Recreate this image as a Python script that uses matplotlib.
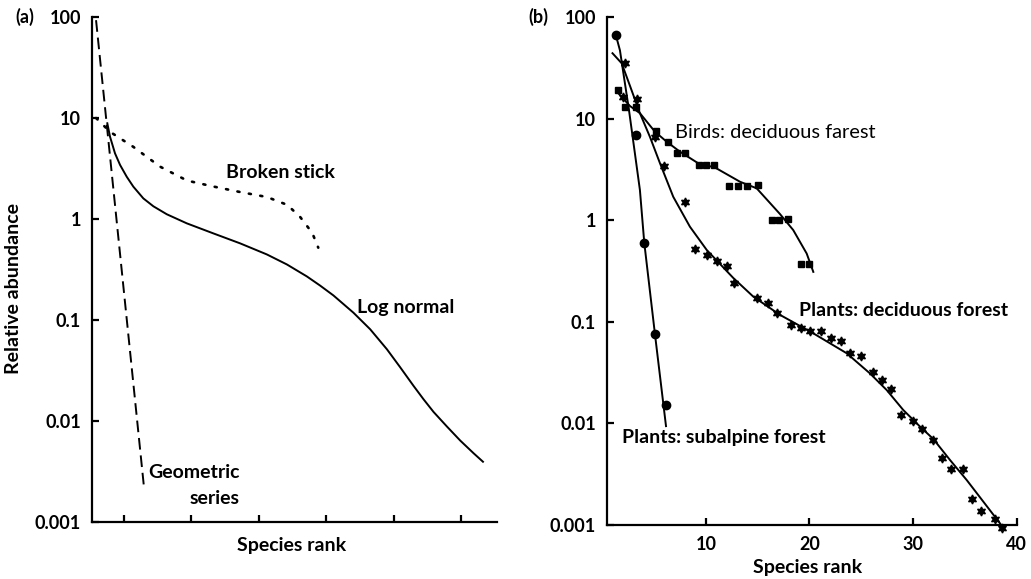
import matplotlib
matplotlib.use("Agg")
import matplotlib.pyplot as plt

plt.rcParams['font.family'] = ['Lato', 'DejaVu Sans']
plt.rcParams['font.weight'] = 'bold'

# ---------------- data: panel (a) (rank units are arbitrary, axis unlabelled) ----------
geom_rank = [0.585, 1.297]
geom_abund = [93, 0.00217]

broken_rank = [0.585, 0.792, 1.134, 1.534, 1.935, 2.32, 2.72, 3.12, 3.42, 3.61, 3.79, 3.88]
broken_abund = [10, 7.3, 5.2, 3.3, 2.4, 2.1, 1.85, 1.65, 1.38, 1.05, 0.73, 0.52]

lognorm_rank = [0.752, 0.792, 0.866, 0.941, 1.040, 1.138, 1.286, 1.435, 1.634, 1.930,
                2.325, 2.721, 3.117, 3.414, 3.711, 3.908, 4.105, 4.402, 4.650, 4.898,
                5.095, 5.292, 5.441, 5.589, 5.788, 5.985, 6.182, 6.322]
lognorm_abund = [8.87, 6.53, 4.47, 3.43, 2.62, 2.09, 1.60, 1.336, 1.114, 0.906,
                 0.720, 0.574, 0.446, 0.355, 0.270, 0.219, 0.175, 0.118, 0.0809, 0.0513,
                 0.0340, 0.0223, 0.0164, 0.0123, 0.00881, 0.0064, 0.0048, 0.00395]

a_xticks = [1, 2, 3, 4, 5, 6]
y_ticks = [0.001, 0.01, 0.1, 1, 10, 100]
y_ticklabels = ['0.001', '0.01', '0.1', '1', '10', '100']

# ---------------- data: panel (b) ----------------
sub_rank = [1.3, 3.2, 4.0, 5.07, 6.1]
sub_abund = [66, 6.9, 0.6, 0.076, 0.0152]
sub_fit_rank = [1.3, 1.69, 2.56, 3.62, 4.04, 5.07, 6.14]
sub_fit_abund = [66, 47, 12.2, 1.98, 0.6, 0.076, 0.0094]

birds_rank = [1.5, 2.2, 3.2, 5.2, 6.3, 7.2, 8.0, 9.3, 10.0, 10.8, 12.2, 13.1, 14.0, 15.0,
              16.4, 17.1, 17.95, 19.15, 20.0]
birds_abund = [19, 13, 13, 7.5, 5.9, 4.6, 4.6, 3.5, 3.5, 3.5, 2.17, 2.17, 2.17, 2.2,
               1.0, 1.0, 1.03, 0.37, 0.37]
birds_fit_rank = [1.5, 2.66, 3.62, 5.07, 6.2, 7.49, 9.26, 10.87, 13.29, 14.9, 17.15,
                  18.43, 19.73, 20.37]
birds_fit_abund = [17.9, 13.3, 11.3, 7.43, 5.93, 4.72, 3.63, 3.3, 2.39, 2.06, 1.15,
                   0.80, 0.47, 0.31]

plants_rank = [2.2, 2.0, 3.3, 5.07, 5.9, 8.0, 8.9, 10.07, 11.1, 12.06, 12.7, 14.96, 15.96,
               16.9, 18.2, 19.15, 20.05, 21.1, 22.05, 23.0, 23.9, 24.97, 26.1, 26.97,
               27.9, 28.84, 29.97, 30.9, 31.9, 32.8, 33.7, 34.8, 35.7, 36.6, 37.9, 38.6]
plants_abund = [35, 16.4, 15.5, 6.6, 3.4, 1.52, 0.52, 0.454, 0.40, 0.354, 0.239, 0.173,
                0.154, 0.123, 0.094, 0.086, 0.081, 0.081, 0.069, 0.064, 0.049, 0.046,
                0.032, 0.027, 0.0218, 0.0121, 0.0106, 0.0088, 0.0068, 0.0046, 0.00354,
                0.00354, 0.00179, 0.00137, 0.00114, 0.00093]
plants_fit_rank = [0.97, 1.86, 2.66, 3.62, 4.59, 5.56, 6.84, 8.45, 10.07, 12.64, 14.57,
                   17.15, 20.37, 23.6, 25.85, 27.46, 29.06, 30.68, 31.96, 33.57, 35.19,
                   36.79, 38.4, 38.72]
plants_fit_abund = [44, 35, 21, 11.3, 6.6, 3.63, 1.70, 0.863, 0.51, 0.27, 0.177, 0.117,
                    0.077, 0.049, 0.031, 0.0213, 0.01355, 0.0093, 0.00703, 0.00437,
                    0.00277, 0.0017, 0.00104, 0.00093]

b_xticks = [10, 20, 30, 40]

W, H = 1031, 579
fig = plt.figure(figsize=(W / 100, H / 100), dpi=100)
FS = 14
TFS = 13


def fx(x):
    return x / W


def fy(y):
    return 1 - y / H


def style_axes(ax):
    for s in ['top', 'right']:
        ax.spines[s].set_visible(False)
    for s in ['left', 'bottom']:
        ax.spines[s].set_linewidth(1.6)
    ax.set_yscale('log')
    ax.set_ylim(0.001, 100)
    ax.set_yticks(y_ticks)
    ax.set_yticklabels(y_ticklabels)
    ax.minorticks_off()
    ax.tick_params(direction='in', length=5, width=1.6, labelsize=TFS, pad=8)


# ---------------- panel (a) ----------------
axa = fig.add_axes([fx(92), fy(522), fx(497) - fx(92), fy(17) - fy(522)])
style_axes(axa)
axa.set_xlim(0.525, 6.53)
axa.set_xticks(a_xticks)
axa.set_xticklabels([])
axa.plot(geom_rank, geom_abund, color='black', lw=1.4, linestyle=(0, (6, 3)))
axa.plot(broken_rank, broken_abund, color='black', lw=1.9, linestyle=(0, (0.8, 3.6)),
         dash_capstyle='round')
axa.plot(lognorm_rank, lognorm_abund, color='black', lw=1.4)

fig.text(fx(15), fy(17), '(a)', fontsize=TFS, ha='left', va='center')
fig.text(fx(226), fy(173), 'Broken stick', fontsize=FS, ha='left', va='center')
fig.text(fx(357), fy(307), 'Log normal', fontsize=FS, ha='left', va='center')
fig.text(fx(148), fy(473), 'Geometric', fontsize=FS, ha='left', va='center')
fig.text(fx(240), fy(499), 'series', fontsize=FS, ha='right', va='center')
fig.text(fx(292), fy(546), 'Species rank', fontsize=FS, ha='center', va='center')
fig.text(fx(14), fy(288), 'Relative abundance', fontsize=FS,
         ha='center', va='center', rotation=90)

# ---------------- panel (b) ----------------
axb = fig.add_axes([fx(607), fy(525), fx(1016.5) - fx(607), fy(17) - fy(525)])
style_axes(axb)
axb.set_xlim(0.44, 40.0)
axb.set_xticks(b_xticks)
axb.set_xticklabels([str(t) for t in b_xticks])

axb.plot(sub_fit_rank, sub_fit_abund, color='black', lw=1.4)
axb.plot(birds_fit_rank, birds_fit_abund, color='black', lw=1.4)
axb.plot(plants_fit_rank, plants_fit_abund, color='black', lw=1.4, clip_on=False)
axb.plot(sub_rank, sub_abund, 'o', color='black', ms=6, clip_on=False)
axb.plot(birds_rank, birds_abund, 's', color='black', ms=4.8, clip_on=False)
axb.plot(plants_rank, plants_abund, linestyle='none', marker=(6, 1, 0), color='black',
         ms=6.5, clip_on=False)

fig.text(fx(528), fy(17), '(b)', fontsize=TFS, ha='left', va='center')
fig.text(fx(675), fy(133), 'Birds: deciduous farest', fontsize=14.4, fontweight='normal',
         ha='left', va='center')
fig.text(fx(799), fy(310), 'Plants: deciduous forest', fontsize=FS,
         ha='left', va='center')
fig.text(fx(622), fy(438), 'Plants: subalpine forest', fontsize=FS,
         ha='left', va='center')
fig.text(fx(808), fy(567), 'Species rank', fontsize=FS, ha='center', va='center')

fig.savefig('out.png', dpi=100, facecolor='white')
